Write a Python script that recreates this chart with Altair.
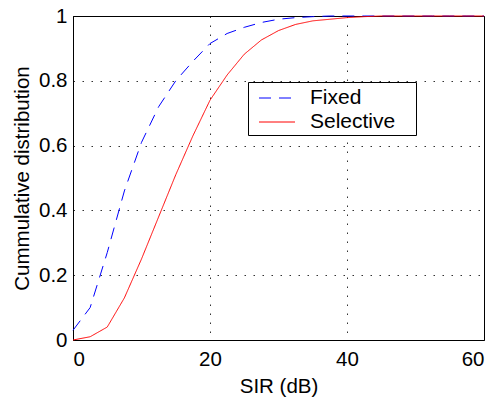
import altair as alt
import pandas as pd

sir = [0, 2.5, 5, 7.5, 10, 12.5, 15, 17.5, 20, 22.5, 25, 27.5, 30, 32.5, 35, 37.5, 40, 42.5, 45, 47.5, 50, 52.5, 55, 57.5, 60]
fixed = [0.03, 0.10, 0.27, 0.46, 0.61, 0.72, 0.80, 0.86, 0.915, 0.946, 0.965, 0.98, 0.99, 0.995, 0.998, 1.0, 1.0, 1.0, 1.0, 1.0, 1.0, 1.0, 1.0, 1.0, 1.0]
selective = [0.0, 0.01, 0.04, 0.13, 0.25, 0.38, 0.51, 0.63, 0.74, 0.818, 0.882, 0.926, 0.955, 0.974, 0.985, 0.99, 0.995, 0.998, 1.0, 1.0, 1.0, 1.0, 1.0, 1.0, 1.0]
series = ["Fixed", "Selective"]

df = pd.concat([
    pd.DataFrame({"SIR": sir, "CDF": fixed, "Series": series[0]}),
    pd.DataFrame({"SIR": sir, "CDF": selective, "Series": series[1]}),
])

font = "Liberation Sans"
fs = 20.5

chart = alt.Chart(df).mark_line(strokeWidth=1).encode(
    x=alt.X("SIR:Q", title="SIR (dB)",
            scale=alt.Scale(domain=[0, 60], nice=False),
            axis=alt.Axis(values=[0, 20, 40, 60], format="d")),
    y=alt.Y("CDF:Q", title="Cummulative distribution",
            scale=alt.Scale(domain=[0, 1], nice=False),
            axis=alt.Axis(values=[0, 0.2, 0.4, 0.6, 0.8, 1], labelExpr="datum.value == 0 ? '0' : datum.value == 1 ? '1' : format(datum.value, '.1f')")),
    color=alt.Color("Series:N", scale=alt.Scale(domain=series, range=["#0000ff", "#ff0000"]),
                    legend=alt.Legend(title=" ", titleOrient="right", titlePadding=18, titleFontSize=4,
                                      orient="none", legendX=175, legendY=66,
                                      symbolType="M-1.44,0H1.44", symbolSize=625, symbolStrokeWidth=1,
                                      fillColor="white", strokeColor="black", padding=3,
                                      symbolOffset=13,
                                      labelFontSize=21, labelFont=font, labelColor="black",
                                      rowPadding=1, labelOffset=20)),
    strokeDash=alt.StrokeDash("Series:N", scale=alt.Scale(domain=series, range=[[12, 8], [1, 0]]),
                              legend=None),
).properties(
    width=411, height=324,
    autosize=alt.AutoSizeParams(type="none"),
    padding={"left": 65, "top": 8, "right": 3, "bottom": 70},
).configure_view(
    stroke="black", strokeWidth=1
).configure_axis(
    labelFont=font, titleFont=font, labelFontSize=fs, titleFontSize=fs,
    labelColor="black", titleColor="black", titleFontWeight="normal",
    grid=True, gridColor="black", gridDash=[1.5, 7.5], gridOpacity=0.8, gridWidth=1,
    domainColor="black", tickColor="black", tickSize=0,
).configure_axisX(labelPadding=9, titlePadding=7).configure_axisY(labelPadding=6, titlePadding=6)

chart.save("out.html", embed_options={"renderer": "svg", "actions": False})
